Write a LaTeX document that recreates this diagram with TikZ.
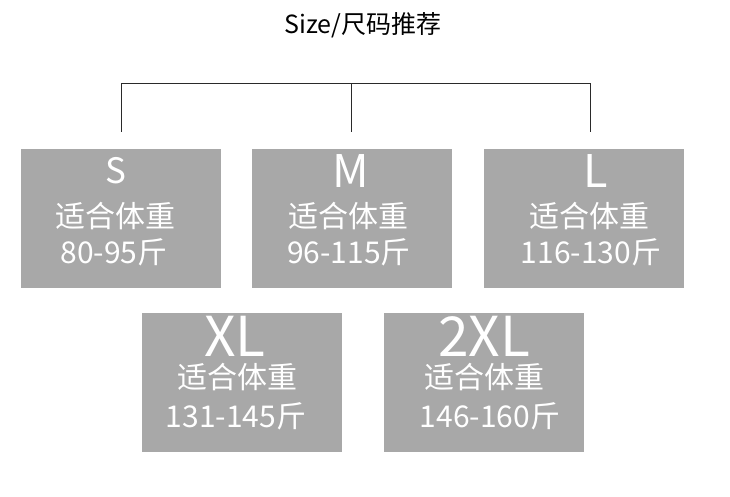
\documentclass[tikz,border=0pt]{standalone}
\usepackage{fontspec}
\setmainfont{Noto Sans CJK SC}
\usetikzlibrary{positioning}
\definecolor{boxgray}{HTML}{A8A8A8}
\definecolor{linegray}{HTML}{2A2A2A}
\tikzset{
  sizebox/.style={fill=boxgray, draw=none, minimum width=200pt, minimum height=139pt, inner sep=0pt, anchor=north west},
  smalltxt/.style={text=white, font=\fontsize{35}{35}\selectfont, inner sep=0pt},
  bigtxt/.style={text=white, font=\fontsize{45}{45}\selectfont, inner sep=0pt},
  hugetxt/.style={text=white, font=\fontsize{55}{55}\selectfont, inner sep=0pt},
  cntxt/.style={text=white, font=\fontsize{30}{30}\selectfont, inner sep=0pt},
  conn/.style={draw=linegray, line width=1pt},
}
\begin{document}
\begin{tikzpicture}[x=1pt,y=-1pt]
\useasboundingbox[fill=white] (0,0) rectangle (730,497);
\node[font=\fontsize{25}{25}\selectfont, text=black, inner sep=0pt] (title) at (363,25) {Size/尺码推荐};

\node[sizebox] (S) at (21,149) {};
\node[sizebox] (M) at (252,149) {};
\node[sizebox] (L) at (484,149) {};
\node[sizebox] (XL) at (142,313) {};
\node[sizebox] (XXL) at (384,313) {};

\node[smalltxt] (s1) at (116,170.5) {S};
\node[cntxt] (s2) at (115,216) {适合体重};
\node[cntxt] (s3) at (114,252) {80-95斤};

\node[bigtxt] (m1) at (351,171) {M};
\node[cntxt] (m2) at (348,216) {适合体重};
\node[cntxt] (m3) at (349,252) {96-115斤};

\node[bigtxt] (l1) at (596,171) {L};
\node[cntxt] (l2) at (589,216) {适合体重};
\node[cntxt] (l3) at (591,252) {116-130斤};

\node[hugetxt] (xl1) at (235,336) {XL};
\node[cntxt] (xl2) at (237,377) {适合体重};
\node[cntxt] (xl3) at (236,416) {131-145斤};

\node[hugetxt] (xxl1) at (484,336) {2XL};
\node[cntxt] (xxl2) at (484,377) {适合体重};
\node[cntxt] (xxl3) at (490,416) {146-160斤};

\coordinate (sTop) at ([yshift=17pt]S.north);
\coordinate (mTop) at ([xshift=-1pt,yshift=17pt]M.north);
\coordinate (lTop) at ([xshift=6pt,yshift=17pt]L.north);
\draw[conn] (sTop) -- ++(0,-48) -| (lTop);
\draw[conn] (mTop) -- ++(0,-48);
\end{tikzpicture}
\end{document}
